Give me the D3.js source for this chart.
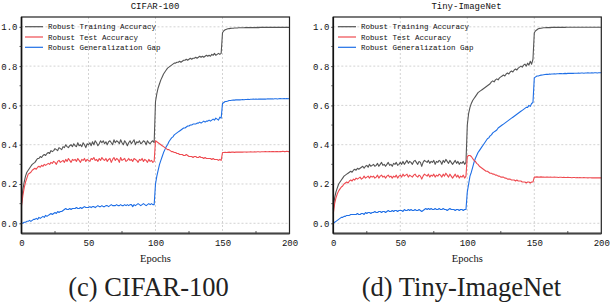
<!DOCTYPE html>
<html><head><meta charset="utf-8">
<script src="https://cdn.jsdelivr.net/npm/d3@7"></script>
<style>body{margin:0;background:#fff}svg{display:block}</style>
</head><body>
<svg id="c" width="610" height="302"></svg>
<script>
const seriesNames = ["Robust Training Accuracy","Robust Test Accuracy","Robust Generalization Gap"];
const colors = ["#555555","#ee4a50","#1f6fe6"];
const xTicks = [0,50,100,150,200];
const yTicks = [0.0,0.2,0.4,0.6,0.8,1.0];
const yTickLabels = ["0.0","0.2","0.4","0.6","0.8","1.0"];
const titles = ["CIFAR-100","Tiny-ImageNet"];
const captions = ["(c) CIFAR-100","(d) Tiny-ImageNet"];

const cifarTrain = [
0.10,0.17,0.21,0.24,0.26,0.27,0.28,0.29,0.30,0.305,
0.31,0.32,0.33,0.33,0.34,0.335,0.345,0.35,0.345,0.355,
0.36,0.355,0.37,0.365,0.37,0.38,0.375,0.37,0.385,0.38,
0.375,0.39,0.385,0.40,0.39,0.385,0.395,0.40,0.39,0.405,
0.395,0.39,0.41,0.395,0.40,0.39,0.41,0.40,0.385,0.405,
0.40,0.41,0.395,0.415,0.40,0.42,0.41,0.395,0.405,0.42,
0.41,0.42,0.405,0.415,0.40,0.415,0.42,0.41,0.40,0.425,
0.41,0.42,0.415,0.405,0.425,0.41,0.40,0.42,0.41,0.395,
0.41,0.42,0.405,0.415,0.425,0.40,0.415,0.41,0.42,0.405,
0.41,0.42,0.415,0.40,0.42,0.41,0.405,0.415,0.42,0.41,
0.62,0.66,0.69,0.71,0.73,0.745,0.76,0.77,0.78,0.79,
0.795,0.80,0.805,0.81,0.815,0.815,0.82,0.82,0.825,0.82,
0.825,0.83,0.83,0.835,0.83,0.835,0.84,0.835,0.84,0.84,
0.845,0.84,0.845,0.85,0.845,0.85,0.845,0.85,0.855,0.85,
0.855,0.85,0.86,0.855,0.865,0.855,0.86,0.865,0.86,0.865,
0.97,0.98,0.985,0.988,0.99,0.991,0.992,0.993,0.993,0.994,
0.994,0.994,0.995,0.995,0.995,0.995,0.995,0.996,0.996,0.996,
0.996,0.996,0.996,0.996,0.996,0.996,0.997,0.996,0.997,0.997,
0.997,0.997,0.997,0.997,0.997,0.997,0.997,0.997,0.997,0.997,
0.997,0.997,0.997,0.998,0.997,0.997,0.998,0.997,0.997,0.997,
0.997];
const cifarTest = [
0.09,0.14,0.18,0.21,0.23,0.25,0.255,0.26,0.27,0.275,
0.28,0.275,0.285,0.29,0.285,0.295,0.29,0.30,0.295,0.30,
0.305,0.30,0.31,0.305,0.315,0.31,0.30,0.315,0.32,0.31,
0.315,0.32,0.31,0.325,0.315,0.33,0.32,0.31,0.325,0.32,
0.325,0.315,0.33,0.32,0.31,0.325,0.32,0.33,0.315,0.325,
0.32,0.315,0.33,0.325,0.335,0.32,0.325,0.315,0.33,0.32,
0.335,0.325,0.32,0.33,0.315,0.325,0.33,0.31,0.325,0.335,
0.32,0.33,0.325,0.31,0.335,0.32,0.325,0.33,0.315,0.32,
0.33,0.32,0.325,0.315,0.33,0.325,0.32,0.31,0.325,0.32,
0.33,0.315,0.325,0.32,0.31,0.325,0.315,0.32,0.31,0.315,
0.42,0.415,0.41,0.405,0.40,0.395,0.39,0.385,0.38,0.375,
0.375,0.37,0.365,0.365,0.36,0.36,0.355,0.355,0.35,0.35,
0.35,0.345,0.345,0.35,0.345,0.34,0.34,0.34,0.335,0.34,
0.34,0.335,0.335,0.34,0.335,0.335,0.33,0.335,0.33,0.33,
0.33,0.33,0.325,0.33,0.325,0.325,0.325,0.32,0.325,0.32,
0.36,0.36,0.361,0.36,0.361,0.362,0.361,0.362,0.362,0.361,
0.362,0.363,0.362,0.362,0.363,0.362,0.363,0.363,0.362,0.363,
0.363,0.364,0.363,0.363,0.364,0.363,0.364,0.364,0.363,0.364,
0.364,0.364,0.365,0.364,0.364,0.365,0.364,0.365,0.365,0.364,
0.365,0.365,0.364,0.365,0.365,0.366,0.365,0.365,0.366,0.365,
0.365];
const cifarGap = [
0.00,0.00,0.005,0.005,0.01,0.01,0.015,0.01,0.015,0.02,
0.02,0.025,0.02,0.03,0.025,0.03,0.035,0.03,0.04,0.035,
0.04,0.045,0.05,0.045,0.05,0.055,0.05,0.06,0.055,0.06,
0.06,0.065,0.07,0.075,0.07,0.07,0.075,0.07,0.075,0.075,
0.075,0.08,0.075,0.075,0.08,0.075,0.08,0.085,0.08,0.08,
0.08,0.085,0.08,0.085,0.085,0.08,0.085,0.09,0.085,0.085,
0.09,0.085,0.085,0.09,0.09,0.085,0.09,0.095,0.09,0.09,
0.09,0.095,0.09,0.09,0.095,0.09,0.09,0.095,0.09,0.095,
0.09,0.095,0.095,0.085,0.095,0.09,0.095,0.10,0.095,0.09,
0.095,0.10,0.095,0.09,0.095,0.10,0.095,0.10,0.095,0.095,
0.20,0.24,0.27,0.30,0.32,0.34,0.36,0.375,0.39,0.40,
0.415,0.425,0.435,0.44,0.45,0.455,0.46,0.465,0.47,0.475,
0.48,0.485,0.485,0.49,0.495,0.495,0.50,0.50,0.505,0.505,
0.505,0.51,0.51,0.515,0.51,0.515,0.52,0.515,0.52,0.52,
0.525,0.52,0.525,0.53,0.525,0.535,0.53,0.525,0.54,0.535,
0.61,0.615,0.62,0.62,0.622,0.625,0.625,0.626,0.627,0.627,
0.628,0.628,0.629,0.628,0.629,0.63,0.629,0.63,0.63,0.631,
0.63,0.631,0.631,0.632,0.631,0.632,0.631,0.632,0.633,0.632,
0.632,0.633,0.632,0.633,0.634,0.633,0.633,0.634,0.633,0.634,
0.634,0.633,0.634,0.635,0.634,0.634,0.635,0.634,0.635,0.634,
0.635];

const tinyTrain = [
0.07,0.13,0.16,0.18,0.20,0.21,0.22,0.23,0.24,0.245,
0.25,0.255,0.26,0.265,0.26,0.27,0.275,0.27,0.28,0.275,
0.28,0.285,0.29,0.28,0.29,0.295,0.285,0.30,0.29,0.295,
0.30,0.29,0.295,0.305,0.29,0.30,0.31,0.295,0.30,0.29,
0.30,0.31,0.295,0.30,0.29,0.305,0.30,0.31,0.295,0.30,
0.31,0.30,0.315,0.30,0.31,0.32,0.305,0.315,0.31,0.30,
0.315,0.32,0.31,0.30,0.315,0.31,0.29,0.31,0.32,0.315,
0.31,0.32,0.305,0.315,0.31,0.32,0.30,0.315,0.31,0.32,
0.315,0.30,0.32,0.31,0.325,0.315,0.305,0.32,0.31,0.30,
0.31,0.32,0.305,0.315,0.30,0.31,0.305,0.315,0.30,0.31,
0.50,0.56,0.59,0.61,0.625,0.635,0.645,0.655,0.665,0.67,
0.675,0.68,0.685,0.69,0.695,0.70,0.705,0.71,0.72,0.725,
0.72,0.73,0.735,0.73,0.74,0.745,0.75,0.755,0.75,0.76,
0.765,0.76,0.77,0.775,0.77,0.78,0.785,0.78,0.79,0.795,
0.80,0.795,0.805,0.81,0.80,0.815,0.805,0.825,0.81,0.835,
0.97,0.98,0.985,0.99,0.992,0.993,0.994,0.995,0.995,0.996,
0.996,0.996,0.996,0.997,0.997,0.997,0.997,0.997,0.997,0.997,
0.997,0.997,0.998,0.997,0.998,0.998,0.998,0.998,0.998,0.998,
0.998,0.998,0.998,0.998,0.998,0.998,0.998,0.998,0.998,0.998,
0.998,0.998,0.998,0.998,0.998,0.998,0.998,0.998,0.998,0.998,
0.998];
const tinyTest = [
0.05,0.10,0.13,0.15,0.165,0.175,0.185,0.19,0.20,0.205,
0.21,0.205,0.215,0.22,0.215,0.225,0.22,0.23,0.225,0.23,
0.235,0.225,0.23,0.24,0.23,0.235,0.24,0.23,0.24,0.235,
0.24,0.23,0.235,0.245,0.23,0.24,0.245,0.235,0.24,0.23,
0.24,0.245,0.235,0.24,0.23,0.24,0.235,0.245,0.23,0.24,
0.245,0.235,0.25,0.24,0.245,0.25,0.235,0.245,0.24,0.235,
0.245,0.25,0.24,0.235,0.245,0.24,0.225,0.24,0.25,0.245,
0.24,0.25,0.235,0.245,0.24,0.25,0.235,0.245,0.24,0.25,
0.245,0.235,0.25,0.24,0.255,0.245,0.235,0.25,0.24,0.23,
0.24,0.25,0.235,0.245,0.23,0.24,0.235,0.245,0.23,0.24,
0.34,0.345,0.345,0.34,0.33,0.32,0.315,0.305,0.30,0.29,
0.285,0.28,0.275,0.27,0.265,0.265,0.26,0.255,0.255,0.25,
0.25,0.245,0.245,0.24,0.24,0.235,0.235,0.235,0.23,0.23,
0.225,0.225,0.225,0.22,0.22,0.22,0.215,0.22,0.215,0.215,
0.215,0.21,0.21,0.21,0.205,0.21,0.21,0.205,0.21,0.21,
0.235,0.235,0.236,0.235,0.235,0.236,0.235,0.235,0.234,0.235,
0.235,0.234,0.235,0.234,0.234,0.235,0.234,0.234,0.233,0.234,
0.234,0.233,0.234,0.233,0.233,0.234,0.233,0.233,0.232,0.233,
0.233,0.232,0.233,0.232,0.233,0.232,0.232,0.233,0.232,0.232,
0.231,0.232,0.232,0.231,0.232,0.231,0.231,0.232,0.231,0.231,
0.231];
const tinyGap = [
0.00,0.005,0.01,0.015,0.02,0.025,0.03,0.03,0.035,0.035,
0.04,0.04,0.04,0.045,0.045,0.045,0.045,0.045,0.05,0.045,
0.045,0.05,0.05,0.045,0.055,0.05,0.055,0.055,0.05,0.055,
0.055,0.06,0.055,0.055,0.06,0.06,0.055,0.06,0.06,0.055,
0.06,0.065,0.06,0.06,0.065,0.06,0.065,0.065,0.06,0.065,
0.065,0.065,0.06,0.07,0.065,0.065,0.07,0.065,0.07,0.065,
0.065,0.07,0.065,0.065,0.07,0.065,0.06,0.065,0.07,0.075,
0.07,0.075,0.07,0.075,0.07,0.07,0.075,0.07,0.07,0.075,
0.07,0.07,0.075,0.07,0.07,0.065,0.07,0.075,0.07,0.07,
0.07,0.065,0.07,0.07,0.065,0.07,0.07,0.065,0.07,0.07,
0.16,0.20,0.24,0.26,0.285,0.31,0.33,0.345,0.36,0.37,
0.38,0.39,0.40,0.41,0.42,0.43,0.435,0.445,0.45,0.46,
0.465,0.47,0.475,0.485,0.49,0.495,0.50,0.505,0.51,0.515,
0.52,0.525,0.53,0.535,0.54,0.545,0.55,0.555,0.56,0.565,
0.57,0.575,0.58,0.585,0.59,0.59,0.60,0.595,0.61,0.615,
0.74,0.745,0.75,0.75,0.752,0.754,0.755,0.756,0.757,0.758,
0.758,0.759,0.759,0.76,0.76,0.761,0.76,0.761,0.761,0.762,
0.762,0.761,0.762,0.763,0.762,0.763,0.763,0.763,0.764,0.763,
0.764,0.764,0.764,0.765,0.764,0.765,0.765,0.764,0.765,0.765,
0.766,0.765,0.765,0.766,0.765,0.766,0.766,0.765,0.766,0.766,
0.766];

const panels = [
  {title: titles[0], caption: captions[0], series: [cifarTrain, cifarTest, cifarGap],
   x0: 21.5, x1: 289.5, capX: 148.5, titleX: 155, legX: 25},
  {title: titles[1], caption: captions[1], series: [tinyTrain, tinyTest, tinyGap],
   x0: 333.3, x1: 601.3, capX: 461.5, titleX: 466.5, legX: 338}
];
const yTop = 17, yBot = 233.5;
const monoFont = "'Liberation Mono','DejaVu Sans Mono',monospace";
const serifFont = "'Liberation Serif','DejaVu Serif',serif";

const svg = d3.select("#c");

panels.forEach(p => {
  const x = d3.scaleLinear().domain([0,200]).range([p.x0, p.x1]);
  const y = d3.scaleLinear().domain([-0.052,1.05]).range([yBot, yTop]);
  const g = svg.append("g");

  // grid
  g.selectAll(".gx").data(xTicks.slice(1,-1)).join("line")
    .attr("x1", d=>x(d)).attr("x2", d=>x(d)).attr("y1", yTop).attr("y2", yBot)
    .attr("stroke","#c8c8c8").attr("stroke-width",0.8).attr("stroke-dasharray","2,2");
  g.selectAll(".gy").data(yTicks).join("line")
    .attr("x1", p.x0).attr("x2", p.x1).attr("y1", d=>y(d)).attr("y2", d=>y(d))
    .attr("stroke","#c8c8c8").attr("stroke-width",0.8).attr("stroke-dasharray","2,2");

  // lines
  const line = d3.line().x((d,i)=>x(i)).y(d=>y(d));
  [2,0,1].forEach(k => {
    g.append("path").datum(p.series[k]).attr("d", line)
      .attr("fill","none").attr("stroke", colors[k]).attr("stroke-width",1.1)
      .attr("stroke-linejoin","round");
  });

  // frame
  g.append("rect").attr("x", p.x0).attr("y", yTop).attr("width", p.x1-p.x0).attr("height", yBot-yTop)
    .attr("fill","none").attr("stroke","#222").attr("stroke-width",1.2);
  g.append("line").attr("x1",p.x0).attr("x2",p.x1).attr("y1",yBot).attr("y2",yBot)
    .attr("stroke","#444").attr("stroke-width",1.8);
  g.append("line").attr("x1",p.x0).attr("x2",p.x0).attr("y1",yTop).attr("y2",yBot)
    .attr("stroke","#111").attr("stroke-width",1.6);

  // axes
  const xAxis = d3.axisBottom(x).tickValues(xTicks).tickSize(0).tickPadding(6).tickFormat(d3.format("d"));
  const xa = g.append("g").attr("transform",`translate(0,${yBot})`).call(xAxis);
  xa.select(".domain").remove();
  xa.selectAll("text").attr("font-family", monoFont).attr("font-size", 9).attr("fill","#111");
  g.selectAll(".mx").data([25,75,125,175]).join("line")
    .attr("x1", d=>x(d)).attr("x2", d=>x(d)).attr("y1", yBot).attr("y2", yBot-2.5)
    .attr("stroke","#333").attr("stroke-width",0.8);

  const yAxis = d3.axisLeft(y).tickValues(yTicks).tickSize(2).tickPadding(2)
    .tickFormat((d,i)=>yTickLabels[i]);
  const ya = g.append("g").attr("transform",`translate(${p.x0},0)`).call(yAxis);
  ya.select(".domain").remove();
  ya.selectAll("line").attr("stroke","#333");
  ya.selectAll("text").attr("font-family", monoFont).attr("font-size", 9).attr("fill","#111");
  g.selectAll(".my").data([0.1,0.3,0.5,0.7,0.9]).join("line")
    .attr("x1", p.x0).attr("x2", p.x0-2).attr("y1", d=>y(d)).attr("y2", d=>y(d))
    .attr("stroke","#333").attr("stroke-width",0.8);

  g.append("text").attr("x", p.titleX).attr("y", 9).attr("text-anchor","middle")
    .attr("font-family", monoFont).attr("font-size", 9).attr("fill","#111").text(p.title);
  g.append("text").attr("x", (p.x0+p.x1)/2).attr("y", 262).attr("text-anchor","middle")
    .attr("font-family", serifFont).attr("font-size", 10.5).attr("fill","#111").text("Epochs");
  g.append("text").attr("x", p.capX).attr("y", 295.5).attr("text-anchor","middle")
    .attr("font-family", serifFont).attr("font-size", 26.5).attr("fill","#222").text(p.caption);

  const leg = g.append("g");
  seriesNames.forEach((name,i) => {
    const ly = 26.7 + i*10.3;
    leg.append("line").attr("x1", p.legX).attr("x2", p.legX+18).attr("y1", ly).attr("y2", ly)
      .attr("stroke", colors[i]).attr("stroke-width",1.2);
    leg.append("text").attr("x", p.legX+23).attr("y", ly+2.6)
      .attr("font-family", monoFont).attr("font-size", 7.5).attr("fill","#111").text(name);
  });
});
</script>
</body></html>
